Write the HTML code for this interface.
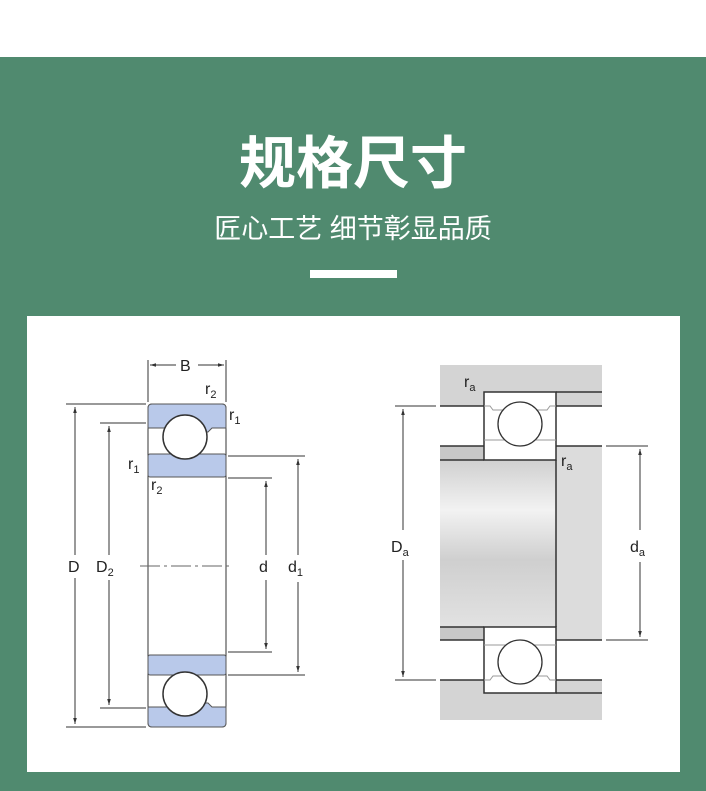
<!DOCTYPE html>
<html><head><meta charset="utf-8"><style>
html,body{margin:0;padding:0;background:#fff;}
body{width:706px;height:791px;position:relative;overflow:hidden;font-family:"Liberation Sans","Noto Sans CJK SC",sans-serif;}
.g{position:absolute;left:0;top:57px;width:706px;height:734px;background:#508a6f;}
.t{position:absolute;left:0;width:706px;text-align:center;color:#fff;}
</style></head><body>
<div class="g"></div>
<div class="t" style="top:129px;font-size:57px;font-weight:bold;line-height:70px;">规格尺寸</div>
<div class="t" style="top:211px;font-size:27px;line-height:36px;">匠心工艺 细节彰显品质</div>
<div style="position:absolute;left:310px;top:270px;width:87px;height:8px;background:#fff"></div>
<div style="position:absolute;left:27px;top:316px;width:653px;height:456px;background:#fff"></div>
<svg style="position:absolute;left:0;top:0" width="706" height="791" font-family="Liberation Sans, sans-serif" fill="none" stroke="#333">
<defs>
<linearGradient id="sh" x1="0" y1="0" x2="0" y2="1">
<stop offset="0" stop-color="#d0d0d0"/><stop offset="0.3" stop-color="#f2f2f2"/><stop offset="0.6" stop-color="#cfcfcf"/><stop offset="1" stop-color="#e2e2e2"/></linearGradient>
<marker id="a" viewBox="0 0 10 10" refX="10" refY="5" markerWidth="6" markerHeight="6" orient="auto-start-reverse"><path d="M0,2 L10,5 L0,8 z" fill="#333" stroke="none"/></marker>
</defs>
<g stroke-width="1">
<rect x="148" y="404" width="78" height="323" rx="4" fill="#fff" stroke="#333"/>
<path d="M148,408 q0,-4 4,-4 h70 q4,0 4,4 v20 h-14 l-4,4 h-38 l-4,-4 h-18 z" fill="#b9c9ea" stroke="#555"/>
<rect x="148" y="454" width="78" height="23" rx="2" fill="#b9c9ea" stroke="#555"/>
<rect x="148" y="655" width="78" height="20" rx="2" fill="#b9c9ea" stroke="#555"/>
<path d="M148,723 q0,4 4,4 h70 q4,0 4,-4 v-16 h-14 l-4,-4 h-38 l-4,4 h-18 z" fill="#b9c9ea" stroke="#555"/>
<circle cx="185" cy="437" r="22" fill="#fff" stroke="#333" stroke-width="1.5"/>
<circle cx="185" cy="694" r="22" fill="#fff" stroke="#333" stroke-width="1.5"/>
<line x1="140" y1="566" x2="232" y2="566" stroke="#666" stroke-dasharray="20,4,3,4"/>
<line x1="148" y1="360" x2="148" y2="402"/><line x1="226" y1="360" x2="226" y2="402"/>
<line x1="150" y1="365" x2="176" y2="365" marker-start="url(#a)"/><line x1="198" y1="365" x2="224" y2="365" marker-end="url(#a)"/>
<line x1="66" y1="404" x2="146" y2="404"/><line x1="66" y1="727" x2="146" y2="727"/>
<line x1="75" y1="407" x2="75" y2="555" marker-start="url(#a)"/><line x1="75" y1="578" x2="75" y2="724" marker-end="url(#a)"/>
<line x1="100" y1="423" x2="146" y2="423"/><line x1="100" y1="708" x2="146" y2="708"/>
<line x1="109" y1="426" x2="109" y2="555" marker-start="url(#a)"/><line x1="109" y1="580" x2="109" y2="705" marker-end="url(#a)"/>
<line x1="228" y1="456" x2="305" y2="456"/><line x1="228" y1="675" x2="305" y2="675"/>
<line x1="228" y1="478" x2="272" y2="478"/><line x1="228" y1="652" x2="272" y2="652"/>
<line x1="266" y1="481" x2="266" y2="555" marker-start="url(#a)"/><line x1="266" y1="580" x2="266" y2="649" marker-end="url(#a)"/>
<line x1="298" y1="459" x2="298" y2="555" marker-start="url(#a)"/><line x1="298" y1="582" x2="298" y2="672" marker-end="url(#a)"/>
</g>
<g fill="#222" stroke="none" font-size="16">
<text x="180" y="371">B</text>
<text x="205" y="394">r<tspan font-size="11" dy="4">2</tspan></text>
<text x="229" y="420">r<tspan font-size="11" dy="4">1</tspan></text>
<text x="128" y="469">r<tspan font-size="11" dy="4">1</tspan></text>
<text x="151" y="490">r<tspan font-size="11" dy="4">2</tspan></text>
<text x="68" y="572">D</text>
<text x="96" y="572">D<tspan font-size="11" dy="4">2</tspan></text>
<text x="259" y="572">d</text>
<text x="288" y="572">d<tspan font-size="11" dy="4">1</tspan></text>
</g>
<g stroke-width="1">
<rect x="440" y="365" width="162" height="355" fill="#d4d4d4" stroke="none"/>
<rect x="440" y="406" width="162" height="40" fill="#fff" stroke="none"/>
<rect x="440" y="640" width="162" height="40" fill="#fff" stroke="none"/>
<rect x="440" y="446" width="44" height="194" fill="#c8c8c8" stroke="none"/>
<rect x="556" y="446" width="46" height="194" fill="#dcdcdc" stroke="none"/>
<rect x="440" y="460" width="116" height="167" fill="url(#sh)" stroke="none"/>
<line x1="556" y1="392" x2="602" y2="392" stroke-width="1.5"/>
<line x1="440" y1="406" x2="484" y2="406" stroke-width="1.5"/><line x1="556" y1="406" x2="602" y2="406" stroke-width="1.5"/>
<line x1="440" y1="446" x2="484" y2="446" stroke-width="1.5"/><line x1="556" y1="446" x2="602" y2="446" stroke-width="1.5"/>
<line x1="440" y1="460" x2="484" y2="460" stroke-width="1.5"/>
<line x1="440" y1="627" x2="484" y2="627" stroke-width="1.5"/>
<line x1="440" y1="640" x2="484" y2="640" stroke-width="1.5"/><line x1="556" y1="640" x2="602" y2="640" stroke-width="1.5"/>
<line x1="440" y1="680" x2="484" y2="680" stroke-width="1.5"/><line x1="556" y1="680" x2="602" y2="680" stroke-width="1.5"/>
<line x1="556" y1="693" x2="602" y2="693" stroke-width="1.5"/>
<line x1="556" y1="460" x2="556" y2="627" stroke-width="1.5"/>
<rect x="484" y="392" width="72" height="68" fill="#fff" stroke-width="1.5"/>
<rect x="484" y="627" width="72" height="66" fill="#fff" stroke-width="1.5"/>
<path d="M484,406 h6 l3,4 h54 l3,-4 h6 M484,440 h72" stroke="#999"/>
<path d="M484,680 h6 l3,-4 h54 l3,4 h6 M484,645 h72" stroke="#999"/>
<circle cx="520" cy="424" r="22" fill="#fff" stroke-width="1.3"/>
<circle cx="520" cy="662" r="22" fill="#fff" stroke-width="1.3"/>
<line x1="395" y1="406" x2="436" y2="406"/><line x1="395" y1="680" x2="436" y2="680"/>
<line x1="403" y1="409" x2="403" y2="530" marker-start="url(#a)"/><line x1="403" y1="560" x2="403" y2="677" marker-end="url(#a)"/>
<line x1="606" y1="446" x2="648" y2="446"/><line x1="606" y1="640" x2="648" y2="640"/>
<line x1="640" y1="449" x2="640" y2="530" marker-start="url(#a)"/><line x1="640" y1="562" x2="640" y2="637" marker-end="url(#a)"/>
</g>
<g fill="#222" stroke="none" font-size="16">
<text x="464" y="387">r<tspan font-size="11" dy="4">a</tspan></text>
<text x="561" y="466">r<tspan font-size="11" dy="4">a</tspan></text>
<text x="391" y="552">D<tspan font-size="11" dy="4">a</tspan></text>
<text x="630" y="552">d<tspan font-size="11" dy="4">a</tspan></text>
</g>
</svg>
</body></html>
